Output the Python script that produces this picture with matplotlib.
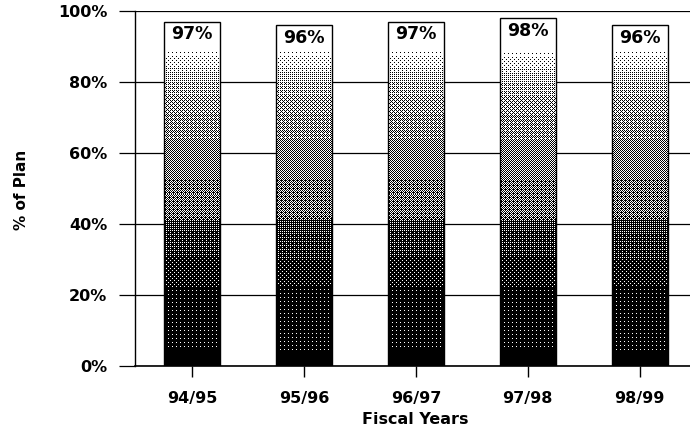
import numpy as np
import matplotlib
matplotlib.use("Agg")
import matplotlib.pyplot as plt
from matplotlib.patches import Rectangle

# Plan attainment by fiscal year
years = ["94/95", "95/96", "96/97", "97/98", "98/99"]
pct_of_plan = [97, 96, 97, 98, 96]
y_ticks = [0, 20, 40, 60, 80, 100]

plt.rcParams["font.family"] = ["DejaVu Sans"]
plt.rcParams["font.weight"] = "bold"

fig = plt.figure(figsize=(6.9, 4.3), dpi=100)
ax = fig.add_axes([135 / 690, 64 / 430, 555 / 690, 355 / 430])

bar_w = 0.5
x = np.arange(len(years))

# 4x4 Bayer matrix for an ordered halftone fill
bayer = np.array([[0, 8, 2, 10],
                  [12, 4, 14, 6],
                  [3, 11, 1, 9],
                  [15, 7, 13, 5]]) / 16.0 + 1 / 32.0

# grey level (0 = black, 1 = white) along the bar height
stops_y = [0, 20, 38, 41, 42, 60, 72, 80, 86, 90, 100]
stops_v = [0.02, 0.07, 0.22, 0.25, 0.42, 0.50, 0.60, 0.72, 0.88, 1.0, 1.0]

px_per_unit = 355 / 100.0
for xi, v in zip(x, pct_of_plan):
    ny = int(round(v * px_per_unit))
    nx = 56
    rows = (np.arange(ny)[::-1] + 0.5) / px_per_unit
    level = np.interp(rows, stops_y, stops_v)
    thr = np.tile(bayer, (ny // 4 + 1, nx // 4 + 1))[:ny, :nx]
    img = (level[:, None] > thr).astype(float)
    rect = Rectangle((xi - bar_w / 2, 0), bar_w, v, facecolor="none",
                     edgecolor="black", linewidth=1.0, zorder=4)
    ax.add_patch(rect)
    im = ax.imshow(img, cmap="gray", vmin=0, vmax=1, interpolation="nearest",
                   extent=(xi - bar_w / 2, xi + bar_w / 2, 0, v),
                   aspect="auto", zorder=3)
    im.set_clip_path(rect)
    ax.text(xi, v - 3.6, f"{v}%", ha="center", va="center",
            fontsize=12.5, fontweight="bold", zorder=5)

ax.set_aspect("auto")
ax.set_xlim(-0.51, 4.45)
ax.set_ylim(0, 100)

ax.set_yticks(y_ticks)
ax.set_yticklabels([f"{t}%" for t in y_ticks])
ax.set_xticks(x)
ax.set_xticklabels(years)
ax.yaxis.grid(True, color="black", linewidth=0.9, zorder=1)
ax.set_axisbelow(True)

for side in ["top", "right"]:
    ax.spines[side].set_visible(False)
ax.spines["left"].set_linewidth(1.0)
ax.spines["bottom"].set_linewidth(1.2)

ax.tick_params(axis="y", length=11.5, width=0.9, pad=8.5, labelsize=11.5)
ax.tick_params(axis="x", length=8, width=1.0, pad=10, labelsize=11.5)
for lbl in ax.get_xticklabels() + ax.get_yticklabels():
    lbl.set_fontweight("bold")

fig.text(22 / 690, (430 - 190) / 430, "% of Plan", rotation=90,
         ha="center", va="center", fontsize=11, fontweight="bold")
fig.text(415 / 690, (430 - 420) / 430, "Fiscal Years",
         ha="center", va="center", fontsize=11.5, fontweight="bold")

fig.savefig("out.png", dpi=100)
